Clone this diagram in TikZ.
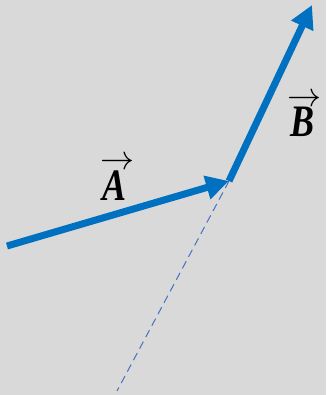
\documentclass[tikz,border=0pt]{standalone}
\usepackage{amsmath}
\usepackage{graphicx}
\usepackage{fontspec}
\newfontfamily\labfont{Liberation Serif}
\usetikzlibrary{arrows.meta}
\definecolor{vecblue}{HTML}{0070C0}
\definecolor{dashblue}{HTML}{4472C4}
\definecolor{bg}{HTML}{D9D9D9}
\tikzset{
  vec/.style={draw=vecblue, line width=7pt, line cap=butt,
    -{Triangle[length=23pt,width=23pt]}},
  guide/.style={draw=dashblue, line width=1pt, dash pattern=on 8pt off 5pt},
  veclabel/.style={inner sep=0pt, anchor=base}
}
\newsavebox{\labbox}
\newcommand{\veclab}[1]{%
  \sbox{\labbox}{\scalebox{0.8}[1]{\fontsize{45}{45}\selectfont\labfont\bfseries\itshape #1}}%
  \rlap{\raisebox{30pt}{\makebox[\wd\labbox]{\hspace{4pt}\scalebox{3.4}{$\rightarrow$}}}}%
  \usebox{\labbox}}
\begin{document}
\begin{tikzpicture}[x=1pt,y=-1pt]
  \fill[bg] (0,0) rectangle (326,395);
  \useasboundingbox (0,0) rectangle (326,395);
  \coordinate (a0) at (7,246);
  \coordinate (o) at (229,181);
  \coordinate (b1) at (312,5);
  \coordinate (d) at (117,391);
  \draw[guide] (o) -- (d);
  \draw[vec] (a0) -- (o);
  \draw[vec] (o) -- (b1);
  \node[veclabel] (la) at (115,200) {\veclab{A}};
  \node[veclabel] (lb) at (302,137) {\veclab{B}};
\end{tikzpicture}
\end{document}
